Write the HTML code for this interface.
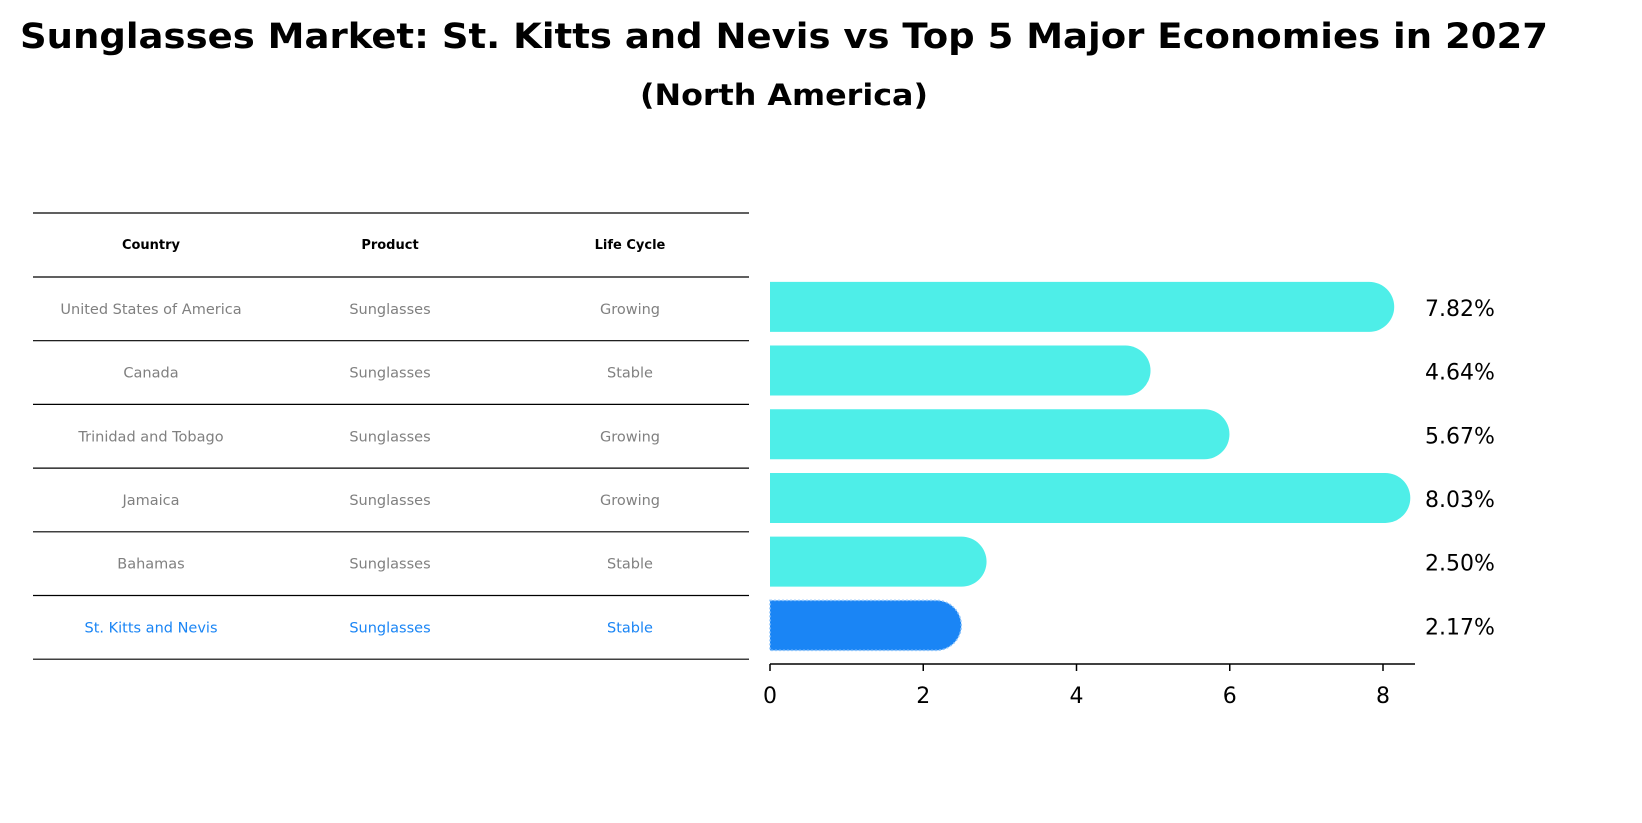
<!DOCTYPE html>
<html><head><meta charset="utf-8">
<style>
body{margin:0;background:#fff;font-family:"DejaVu Sans","Liberation Sans",sans-serif;}
#wrap{position:relative;width:1642px;height:823px;overflow:hidden;}
svg text{font-family:"DejaVu Sans","Liberation Sans",sans-serif;}
</style></head>
<body>
<div id="wrap">
<svg id="svg" width="1642" height="823" xmlns="http://www.w3.org/2000/svg">
<text x="784" y="48" text-anchor="middle" font-size="35" font-weight="bold" textLength="1528" lengthAdjust="spacingAndGlyphs">Sunglasses Market: St. Kitts and Nevis vs Top 5 Major Economies in 2027</text>
<text x="784" y="105" text-anchor="middle" font-size="29" font-weight="bold" textLength="288" lengthAdjust="spacingAndGlyphs">(North America)</text>
<g id="table"></g>
<g id="bars"></g>
</svg>
</div>
<script>
const countries=["United States of America","Canada","Trinidad and Tobago","Jamaica","Bahamas","St. Kitts and Nevis"];
const products=["Sunglasses","Sunglasses","Sunglasses","Sunglasses","Sunglasses","Sunglasses"];
const lifeCycles=["Growing","Stable","Growing","Growing","Stable","Stable"];
const values=[7.82,4.64,5.67,8.03,2.50,2.17];
const valueLabels=["7.82%","4.64%","5.67%","8.03%","2.50%","2.17%"];
const xTicks=[0,2,4,6,8];

const NS="http://www.w3.org/2000/svg";
function mk(tag,attrs,parent){const e=document.createElementNS(NS,tag);for(const k in attrs)e.setAttribute(k,attrs[k]);parent.appendChild(e);return e;}
const table=document.getElementById('table');
const bars=document.getElementById('bars');
const x0=770,xScale=(1383-770)/8;
function xPos(v){return x0+v*xScale;}
const rowTop=277,rowH=63.7;
function rowCenter(i){return rowTop+rowH*(i+0.5);}

const hl=[213,277];
for(let i=1;i<=countries.length;i++)hl.push(rowTop+rowH*i);
hl.forEach((y)=>{const l=mk('line',{x1:33,x2:749,y1:y,y2:y,stroke:'#000','stroke-width':1.2},table);

});
const cols=[151,390,630];
["Country","Product","Life Cycle"].forEach((h,j)=>{const t=mk('text',{x:cols[j],y:249,'text-anchor':'middle','font-size':13,'font-weight':'bold'},table);t.textContent=h;

});
countries.forEach((c,i)=>{const fill=i===countries.length-1?'#1a85f5':'#808080';
[c,products[i],lifeCycles[i]].forEach((s,j)=>{const t=mk('text',{x:cols[j],y:rowCenter(i)+5,'text-anchor':'middle','font-size':14.5,fill:fill},table);t.textContent=s;

});});

const bh=50,r=25;
values.forEach((v,i)=>{const cy=rowCenter(i)-2;const xe=xPos(v);const last=i===values.length-1;
const col=last?'#1a85f5':'#4eeee8';
const p=mk('path',{d:`M${x0},${cy-bh/2} L${xe},${cy-bh/2} A${r},${r} 0 0 1 ${xe},${cy+bh/2} L${x0},${cy+bh/2} Z`,fill:col},bars);
if(last){p.setAttribute('stroke','#8ec5fb');p.setAttribute('stroke-dasharray','2,2');p.setAttribute('stroke-width','1.5');}


const t=mk('text',{x:1425,y:cy+9,'font-size':22},bars);t.textContent=valueLabels[i];

});
const ax=mk('line',{x1:x0,x2:1415,y1:664,y2:664,stroke:'#000','stroke-width':1.5},bars);


xTicks.forEach(v=>{const tk=mk('line',{x1:xPos(v),x2:xPos(v),y1:664,y2:671,stroke:'#000','stroke-width':1.5},bars);


const t=mk('text',{x:xPos(v),y:703,'text-anchor':'middle','font-size':22},bars);t.textContent=v;

});
</script>
</body></html>
